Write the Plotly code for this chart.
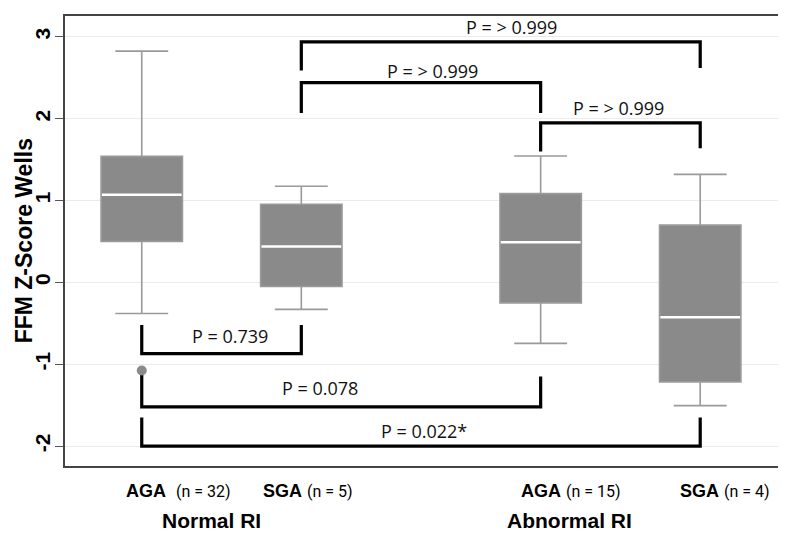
import plotly.graph_objects as go

# ---- data ----
group_labels = ["AGA", "SGA", "AGA", "SGA"]
group_n = ["(n = 32)", "(n = 5)", "(n = 15)", "(n = 4)"]
positions = [0, 1, 2.5, 3.5]
q1 = [0.50, -0.05, -0.25, -1.215]
median = [1.07, 0.44, 0.49, -0.425]
q3 = [1.54, 0.955, 1.085, 0.70]
lowerfence = [-0.38, -0.33, -0.745, -1.505]
upperfence = [2.826, 1.175, 1.545, 1.32]
outlier_group = [0]
outlier_value = [-1.076]

category_names = ["Normal RI", "Abnormal RI"]

# comparisons: (left index, right index, bar level, left tip, right tip, label)
cmp_left = [0, 0, 0, 1, 1, 2]
cmp_right = [1, 2, 3, 3, 2, 3]
cmp_bar = [-0.87, -1.52, -2.0, 2.94, 2.44, 1.95]
cmp_tip_left = [-0.52, -1.12, -1.65, 2.59, 2.07, 1.60]
cmp_tip_right = [-0.52, -1.15, -1.65, 2.62, 2.07, 1.64]
cmp_text = ["P = 0.739", "P = 0.078", "P = 0.022*", "P = > 0.999", "P = > 0.999", "P = > 0.999"]
cmp_text_x = [0.55, 1.12, 1.77, 2.32, 1.82, 2.99]
cmp_text_y = [-0.65, -1.29, -1.82, 3.12, 2.58, 2.13]

y_ticks = [-2, -1, 0, 1, 2, 3]

# ---- figure ----
BOX_W = 0.51
GRAY = "#8a8a8a"
fig = go.Figure()

for i in range(len(positions)):
    fig.add_trace(go.Box(
        x=[positions[i]], q1=[q1[i]], median=[median[i]], q3=[q3[i]],
        lowerfence=[lowerfence[i]], upperfence=[upperfence[i]],
        width=BOX_W, whiskerwidth=0.65,
        fillcolor=GRAY, line=dict(color="#9a9a9a", width=1.6),
        boxpoints=False, showlegend=False, hoverinfo="skip"))
    # white median bar
    fig.add_trace(go.Box(
        x=[positions[i]], q1=[median[i]], median=[median[i]], q3=[median[i]],
        lowerfence=[median[i]], upperfence=[median[i]],
        width=BOX_W * 0.98, whiskerwidth=0,
        fillcolor="white", line=dict(color="white", width=2.5),
        boxpoints=False, showlegend=False, hoverinfo="skip"))

# comparison brackets
for k in range(len(cmp_left)):
    xl = positions[cmp_left[k]]
    xr = positions[cmp_right[k]]
    fig.add_trace(go.Scatter(
        x=[xl, xl, xr, xr],
        y=[cmp_tip_left[k], cmp_bar[k], cmp_bar[k], cmp_tip_right[k]],
        mode="lines", line=dict(color="black", width=3.2),
        showlegend=False, hoverinfo="skip"))
    fig.add_annotation(x=cmp_text_x[k], y=cmp_text_y[k], text=cmp_text[k],
                       showarrow=False, xanchor="center", yanchor="middle",
                       font=dict(family="Open Sans", size=18, color="#111"))

# outlier
fig.add_trace(go.Scatter(
    x=[positions[g] for g in outlier_group], y=outlier_value,
    mode="markers", marker=dict(color=GRAY, size=10),
    showlegend=False, hoverinfo="skip"))

# x group labels (left-anchored)
label_x = [-0.11, 0.75, 2.3625, 3.3625]
label_gap = ["&nbsp;&nbsp;", " ", " ", " "]
for i in range(len(positions)):
    fig.add_annotation(
        x=label_x[i], y=-0.056, xref="x", yref="paper",
        text=("<b>%s</b>%s<span style='font-family:Liberation Sans Narrow, Roboto;"
              "font-size:16px'>%s</span>") % (group_labels[i], label_gap[i], group_n[i]),
        showarrow=False, xanchor="left", yanchor="middle",
        font=dict(family="Liberation Sans", size=18, color="black"))

cat_x = [0.44, 2.68]
for j, name in enumerate(category_names):
    fig.add_annotation(
        x=cat_x[j], y=-0.12, xref="x", yref="paper",
        text="<b>%s</b>" % name, showarrow=False,
        xanchor="center", yanchor="middle",
        font=dict(family="Liberation Sans", size=21, color="black"))

# y title
fig.add_annotation(
    x=-0.057, y=0.5, xref="paper", yref="paper", textangle=-90,
    text="<b>FFM Z-Score Wells</b>", showarrow=False,
    xanchor="center", yanchor="middle",
    font=dict(family="Liberation Sans", size=23, color="black"))

# page body adds an 8px margin: figure sized so that it fits the 786x533 window
fig.update_layout(
    width=778, height=525,
    margin=dict(l=57, r=6, t=6, b=67),
    paper_bgcolor="white", plot_bgcolor="white",
    xaxis=dict(range=[-0.481, 3.9875], showticklabels=False, ticks="",
               showgrid=False, zeroline=False, showline=True, mirror=True,
               linecolor="#444", linewidth=1.5),
    yaxis=dict(range=[-2.243, 3.255], tickvals=y_ticks,
               ticktext=["<b>%d</b>" % v for v in y_ticks], tickangle=-90,
               ticks="outside", ticklen=8, tickcolor="#555", tickwidth=1.2,
               ticklabelstandoff=-3,
               tickfont=dict(family="Liberation Sans", size=21, color="black"),
               showgrid=True, gridcolor="#ebebeb", gridwidth=1.2,
               zeroline=False, showline=True, mirror=True,
               linecolor="#444", linewidth=1.5),
)

fig.write_html("out.html")
